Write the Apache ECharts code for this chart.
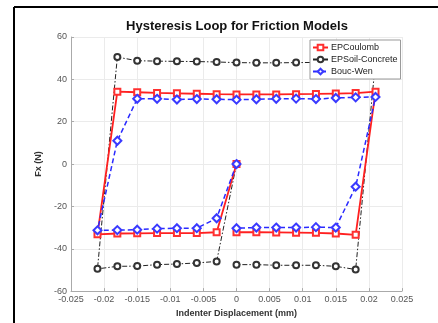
<!DOCTYPE html>
<html>
<head>
<meta charset="utf-8">
<script src="https://cdn.jsdelivr.net/npm/echarts@6/dist/echarts.min.js"></script>
<style>
html,body{margin:0;padding:0;background:#fff;}
#c{width:438px;height:323px;}
</style>
</head>
<body>
<div id="c"></div>
<script>
// Displacement path (mm)
const displacement = [0, -0.003, -0.006, -0.009, -0.012, -0.015, -0.018, -0.021,
  -0.018, -0.015, -0.012, -0.009, -0.006, -0.003, 0, 0.003, 0.006, 0.009, 0.012, 0.015, 0.018, 0.021,
  0.018, 0.015, 0.012, 0.009, 0.006, 0.003, 0];
const epCoulomb = [0, -32.2, -32.6, -32.6, -32.6, -32.7, -32.8, -33.2,
  34.2, 33.9, 33.6, 33.4, 33.2, 33.0, 32.9, 32.9, 32.9, 33.0, 33.1, 33.3, 33.5, 34.2,
  -33.4, -32.8, -32.5, -32.4, -32.3, -32.2, -32.2];
const epSoilConcrete = [0, -46.0, -46.7, -47.2, -47.5, -48.2, -48.3, -49.5,
  50.5, 48.8, 48.6, 48.5, 48.4, 48.2, 47.9, 47.8, 47.8, 47.9, 48.0, 48.2, 48.4, 48.6,
  -49.8, -48.3, -47.8, -47.8, -47.8, -47.5, -47.5];
const boucWen = [0, -25.6, -30.3, -30.3, -30.5, -31.0, -31.2, -31.3,
  11.0, 30.8, 30.8, 30.5, 30.7, 30.6, 30.4, 30.6, 30.8, 30.9, 30.7, 31.2, 31.5, 31.7,
  -10.7, -30.0, -29.8, -30.0, -30.0, -30.0, -30.3];
const seriesNames = ['EPCoulomb', 'EPSoil-Concrete', 'Bouc-Wen'];
const xTickValues = [-0.025, -0.02, -0.015, -0.01, -0.005, 0, 0.005, 0.01, 0.015, 0.02, 0.025];
const xTickLabels = ['-0.025', '-0.02', '-0.015', '-0.01', '-0.005', '0', '0.005', '0.01', '0.015', '0.02', '0.025'];
const yTickValues = [-60, -40, -20, 0, 20, 40, 60];
const yTickLabels = ['-60', '-40', '-20', '0', '20', '40', '60'];

function pairs(ys) { return displacement.map((x, i) => [x, ys[i]]); }
function lookup(vals, labels, v) {
  for (let i = 0; i < vals.length; i++) if (Math.abs(vals[i] - v) < 1e-9) return labels[i];
  return '';
}

const chart = echarts.init(document.getElementById('c'), null, {renderer: 'canvas'});
const font = 'Liberation Sans, Arial, sans-serif';
chart.setOption({
  backgroundColor: '#fff',
  animation: false,
  title: {
    text: 'Hysteresis Loop for Friction Models',
    left: 232, top: 15, textAlign: 'center',
    textStyle: {fontFamily: font, fontSize: 13, fontWeight: 'bold', color: '#111'}
  },
  graphic: [
    {type: 'line', shape: {x1: 14, y1: 7, x2: 438, y2: 7}, style: {stroke: '#000', lineWidth: 2}},
    {type: 'line', shape: {x1: 14, y1: 7, x2: 14, y2: 323}, style: {stroke: '#000', lineWidth: 2}}
  ],
  grid: {left: 71, right: 36, top: 37, bottom: 31, containLabel: false},
  legend: {
    orient: 'vertical', left: 310, top: 40,
    data: seriesNames,
    itemWidth: 15, itemHeight: 7, itemGap: 3,
    padding: [3, 3, 3, 2],
    backgroundColor: '#fff', borderColor: '#999', borderWidth: 1, borderRadius: 0,
    textStyle: {fontFamily: font, fontSize: 9, color: '#222', padding: [0, 0, 0, -2]}
  },
  xAxis: {
    type: 'value', min: -0.025, max: 0.025, interval: 0.005,
    name: 'Indenter Displacement (mm)', nameLocation: 'middle', nameGap: 17,
    nameTextStyle: {fontFamily: font, fontSize: 9, fontWeight: 'bold', color: '#333'},
    axisLine: {show: true, onZero: false, lineStyle: {color: '#aaa', width: 1}},
    axisTick: {show: true, inside: true, length: 3, lineStyle: {color: '#aaa'}},
    axisLabel: {fontFamily: font, fontSize: 9, color: '#555', margin: 4,
      formatter: v => lookup(xTickValues, xTickLabels, v)},
    splitLine: {show: true, lineStyle: {color: '#ebebeb', width: 1}}
  },
  yAxis: {
    type: 'value', min: -60, max: 60, interval: 20,
    name: 'Fx (N)', nameLocation: 'middle', nameGap: 20, nameRotate: 90,
    nameTextStyle: {fontFamily: font, fontSize: 9, fontWeight: 'bold', color: '#333'},
    axisLine: {show: true, onZero: false, lineStyle: {color: '#aaa', width: 1}},
    axisTick: {show: true, inside: true, length: 3, lineStyle: {color: '#aaa'}},
    axisLabel: {fontFamily: font, fontSize: 9, color: '#555', margin: 4,
      formatter: v => lookup(yTickValues, yTickLabels, v)},
    splitLine: {show: true, lineStyle: {color: '#ebebeb', width: 1}}
  },
  series: [
    {
      name: seriesNames[0], type: 'line', data: pairs(epCoulomb),
      symbol: 'emptyRect', symbolSize: 6,
      lineStyle: {color: '#ff2020', width: 1.8, type: 'solid'},
      itemStyle: {color: '#ff3030', borderColor: '#ee3030', borderWidth: 1.5},
      z: 3
    },
    {
      name: seriesNames[1], type: 'line', data: pairs(epSoilConcrete),
      symbol: 'emptyCircle', symbolSize: 6,
      lineStyle: {color: '#222', width: 1, type: [5, 2, 1.5, 2]},
      itemStyle: {color: '#333', borderColor: '#333', borderWidth: 1.5},
      z: 2
    },
    {
      name: seriesNames[2], type: 'line', data: pairs(boucWen),
      symbol: 'emptyDiamond', symbolSize: 8,
      lineStyle: {color: '#2a2aff', width: 1.5, type: [5, 3]},
      itemStyle: {color: '#3a3aff', borderColor: '#3a3aff', borderWidth: 1.5},
      z: 4
    }
  ]
});
</script>
</body>
</html>
